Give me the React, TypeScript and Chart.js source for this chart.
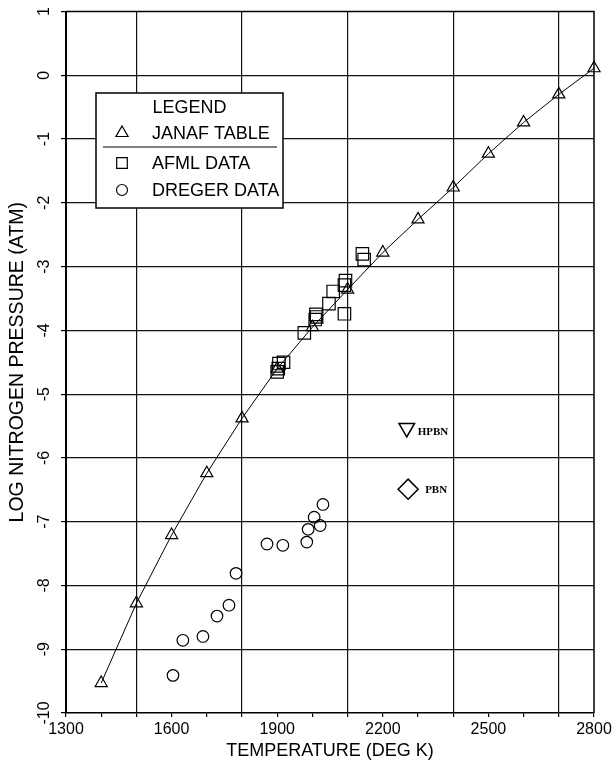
import React, { useEffect, useRef } from 'react';
import { Chart, registerables } from 'chart.js';

Chart.register(...registerables);

// ---- data ----
const janafTemps = [1400, 1500, 1600, 1700, 1800, 1900, 2000, 2100, 2200, 2300, 2400, 2500, 2600, 2700, 2800];
const janafLogP = [-9.53, -8.28, -7.21, -6.24, -5.38, -4.6, -3.95, -3.36, -2.78, -2.26, -1.76, -1.23, -0.74, -0.3, 0.11];

const afmlTemps = [1900, 1903, 1905, 1918, 1977, 2008, 2010, 2012, 2047, 2059, 2091, 2091, 2094, 2142, 2147];
const afmlLogP = [-4.65, -4.6, -4.52, -4.5, -4.04, -3.83, -3.75, -3.79, -3.58, -3.39, -3.74, -3.29, -3.22, -2.8, -2.89];

const dregerTemps = [1604, 1632, 1689, 1729, 1763, 1783, 1871, 1916, 1984, 1988, 2022, 2005, 2030];
const dregerLogP = [-9.41, -8.86, -8.8, -8.48, -8.31, -7.81, -7.35, -7.37, -7.32, -7.12, -7.06, -6.93, -6.73];

const hpbnTemps = [2268];
const hpbnLogP = [-5.53];
const pbnTemps = [2272];
const pbnLogP = [-6.49];

const seriesLabels = ['JANAF TABLE', 'AFML DATA', 'DREGER DATA', 'HPBN', 'PBN'];
const xTickLabels = [1300, 1600, 1900, 2200, 2500, 2800];
const yTickLabels = [1, 0, -1, -2, -3, -4, -5, -6, -7, -8, -9, -10];

const toPts = (xs: number[], ys: number[]) => xs.map((x, i) => ({ x, y: ys[i] }));

const SANS = "'Liberation Sans', Arial, sans-serif";
const SERIF = "'Liberation Serif', 'DejaVu Serif', serif";

function drawSymbol(ctx: CanvasRenderingContext2D, style: string, x: number, y: number, r: number) {
  ctx.beginPath();
  if (style === 'triangle') {
    ctx.moveTo(x, y - r);
    ctx.lineTo(x + r * Math.sin(Math.PI / 3), y + r / 2);
    ctx.lineTo(x - r * Math.sin(Math.PI / 3), y + r / 2);
    ctx.closePath();
  } else if (style === 'rect') {
    const s = r * Math.SQRT1_2;
    ctx.rect(x - s, y - s, 2 * s, 2 * s);
  } else {
    ctx.arc(x, y, r, 0, Math.PI * 2);
  }
  ctx.stroke();
}

const framePlugin = {
  id: 'frame',
  beforeDatasetsDraw(chart: any) {
    const { ctx, chartArea } = chart;
    ctx.save();
    ctx.strokeStyle = '#000';
    ctx.lineWidth = 1.5;
    ctx.beginPath();
    ctx.moveTo(chartArea.left, chartArea.top);
    ctx.lineTo(chartArea.right, chartArea.top);
    ctx.lineTo(chartArea.right, chartArea.bottom);
    ctx.stroke();
    ctx.restore();
  },
};

const legendPlugin = {
  id: 'boxLegend',
  afterDatasetsDraw(chart: any) {
    const { ctx } = chart;
    ctx.save();
    ctx.fillStyle = '#fff';
    ctx.fillRect(96, 93, 187, 115);
    ctx.strokeStyle = '#000';
    ctx.lineWidth = 1.5;
    ctx.strokeRect(96, 93, 187, 115);
    ctx.fillStyle = '#000';
    ctx.font = `18px ${SANS}`;
    ctx.textBaseline = 'middle';
    ctx.textAlign = 'center';
    ctx.fillText('LEGEND', 189.5, 108);
    ctx.lineWidth = 1;
    ctx.beginPath();
    ctx.moveTo(103, 147);
    ctx.lineTo(277, 147);
    ctx.stroke();
    const rows = [133, 163, 190];
    ctx.textAlign = 'left';
    for (let i = 0; i < 3; i++) {
      const ds = chart.data.datasets[i];
      ctx.lineWidth = 1.2;
      const r = ds.pointStyle === 'rect' ? 7.5 : ds.pointStyle === 'triangle' ? 7 : 5.5;
      drawSymbol(ctx, ds.pointStyle, 122, rows[i], r);
      ctx.fillText(ds.label, 152, rows[i] + 1);
    }
    ctx.restore();
  },
};

const pointLabelPlugin = {
  id: 'pointLabels',
  afterDatasetsDraw(chart: any) {
    const { ctx } = chart;
    ctx.save();
    ctx.fillStyle = '#000';
    ctx.font = `bold 11px ${SERIF}`;
    ctx.textBaseline = 'middle';
    ctx.textAlign = 'left';
    const offs: Record<number, [number, number]> = { 3: [11, 4.5], 4: [17, 1] };
    [3, 4].forEach((i) => {
      const el = chart.getDatasetMeta(i).data[0];
      if (el) ctx.fillText(chart.data.datasets[i].label, el.x + offs[i][0], el.y + offs[i][1]);
    });
    ctx.restore();
  },
};

export default function App() {
  const ref = useRef<HTMLCanvasElement | null>(null);
  useEffect(() => {
    if (!ref.current) return;
    Chart.defaults.font.family = SANS;
    Chart.defaults.color = '#000';
    const chart = new Chart(ref.current, {
      type: 'scatter',
      data: {
        datasets: [
          {
            label: seriesLabels[0],
            data: toPts(janafTemps, janafLogP),
            showLine: true,
            borderColor: '#000',
            borderWidth: 1,
            pointStyle: 'triangle',
            pointRadius: 7,
            pointBorderWidth: 1.2,
            pointBackgroundColor: 'rgba(0,0,0,0)',
            pointBorderColor: '#000',
            clip: false,
          } as any,
          {
            label: seriesLabels[1],
            data: toPts(afmlTemps, afmlLogP),
            pointStyle: 'rect',
            pointRadius: 8.8,
            pointBorderWidth: 1.2,
            pointBackgroundColor: 'rgba(0,0,0,0)',
            pointBorderColor: '#000',
          },
          {
            label: seriesLabels[2],
            data: toPts(dregerTemps, dregerLogP),
            pointStyle: 'circle',
            pointRadius: 5.8,
            pointBorderWidth: 1.2,
            pointBackgroundColor: 'rgba(0,0,0,0)',
            pointBorderColor: '#000',
          },
          {
            label: seriesLabels[3],
            data: toPts(hpbnTemps, hpbnLogP),
            pointStyle: 'triangle',
            pointRotation: 180,
            pointRadius: 9,
            pointBorderWidth: 1.5,
            pointBackgroundColor: 'rgba(0,0,0,0)',
            pointBorderColor: '#000',
          },
          {
            label: seriesLabels[4],
            data: toPts(pbnTemps, pbnLogP),
            pointStyle: 'rectRot',
            pointRadius: 10,
            pointBorderWidth: 1.5,
            pointBackgroundColor: 'rgba(0,0,0,0)',
            pointBorderColor: '#000',
          },
        ],
      },
      options: {
        animation: false,
        responsive: false,
        events: [],
        layout: { padding: { top: 11, right: 22, left: 0, bottom: 0 } },
        plugins: {
          legend: { display: false },
          tooltip: { enabled: false },
        },
        scales: {
          x: {
            type: 'linear',
            min: 1300,
            max: 2800,
            afterFit(s: any) {
              s.height = 51;
              s.paddingLeft = 0;
              s.paddingRight = 0;
            },
            border: { display: true, color: '#000', width: 1.5 },
            grid: {
              color: (c: any) => {
                const v = c.tick ? c.tick.value : 0;
                return v % 300 === 0 && v !== 1300 && v !== 2800 ? '#111' : 'rgba(0,0,0,0)';
              },
              tickColor: '#000',
              lineWidth: 1.2,
              tickLength: 4,
              drawTicks: true,
            },
            ticks: {
              stepSize: 100,
              autoSkip: false,
              maxRotation: 0,
              minRotation: 0,
              padding: 3,
              font: { size: 16, family: SANS },
              color: '#000',
              callback: (v: any) => (xTickLabels.includes(Number(v)) ? String(v) : ''),
            },
            title: {
              display: true,
              text: 'TEMPERATURE (DEG K)',
              font: { size: 18, family: SANS },
              color: '#000',
              padding: { top: 0, bottom: 2.5 },
            },
          },
          y: {
            type: 'linear',
            min: -10,
            max: 1,
            afterFit(s: any) {
              s.width = 66;
              s.paddingTop = 0;
              s.paddingBottom = 0;
            },
            border: { display: true, color: '#000', width: 2 },
            grid: {
              color: (c: any) => {
                const v = c.tick ? c.tick.value : 0;
                return v === -10 || v === 1 ? 'rgba(0,0,0,0)' : '#111';
              },
              tickColor: '#000',
              lineWidth: 1.2,
              tickLength: 5,
            },
            ticks: {
              stepSize: 1,
              autoSkip: false,
              minRotation: 90,
              maxRotation: 90,
              crossAlign: 'center',
              padding: 5,
              font: { size: 16, family: SANS },
              color: '#000',
              callback: (v: any) => (yTickLabels.includes(Number(v)) ? String(v) : ''),
            },
            title: {
              display: true,
              text: 'LOG NITROGEN PRESSURE (ATM)',
              font: { size: 19.5, family: SANS },
              color: '#000',
              padding: { top: 5.5, bottom: 0 },
            },
          },
        },
      },
      plugins: [framePlugin, legendPlugin, pointLabelPlugin],
    } as any);
    return () => chart.destroy();
  }, []);
  return (
    <div style={{ position: 'fixed', left: 0, top: 0, width: 616, height: 764, background: '#fff' }}>
      <canvas ref={ref} width={616} height={764} style={{ width: 616, height: 764, display: 'block' }} />
    </div>
  );
}
